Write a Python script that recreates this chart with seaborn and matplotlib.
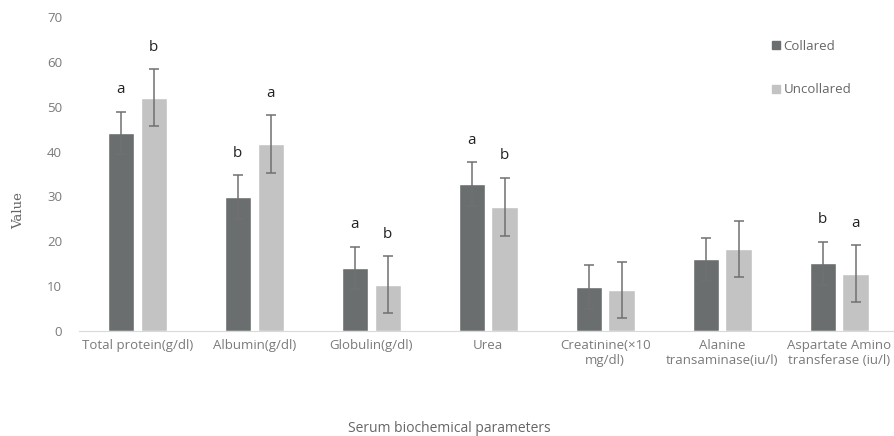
import numpy as np
import pandas as pd
import matplotlib
matplotlib.use("Agg")
import matplotlib.pyplot as plt
import seaborn as sns

# -----------------------------
# Data
# -----------------------------
categories = ["Total protein(g/dl)", "Albumin(g/dl)", "Globulin(g/dl)", "Urea",
              "Creatinine(×10\nmg/dl)", "Alanine\ntransaminase(iu/l)",
              "Aspartate Amino\ntransferase (iu/l)"]
groups = ["Collared", "Uncollared"]
collared = [44.2, 29.9, 14.1, 32.8, 9.8, 16.0, 15.1]
uncollared = [52.0, 41.7, 10.3, 27.7, 9.1, 18.3, 12.8]
collared_err = [4.7, 4.9, 4.7, 4.9, 4.9, 4.8, 4.8]
uncollared_err = [6.4, 6.4, 6.4, 6.5, 6.3, 6.3, 6.3]
collared_letters = ["a", "b", "a", "a", "", "", "b"]
uncollared_letters = ["b", "a", "b", "b", "", "", "a"]

df = pd.DataFrame({
    "category": categories * 2,
    "group": [groups[0]] * len(categories) + [groups[1]] * len(categories),
    "value": collared + uncollared,
})

colors = {"Collared": "#6b6e6e", "Uncollared": "#c3c3c3"}

sns.set_style("white")
plt.rcParams["font.family"] = ["Open Sans", "DejaVu Sans"]

fig = plt.figure(figsize=(8.95, 4.36), dpi=100)
ax = fig.add_axes([0.088, 0.241, 0.915, 0.72])

sns.barplot(data=df, x="category", y="value", hue="group", palette=colors,
            width=0.56, gap=0.2, errorbar=None, ax=ax, legend=False)

# error bars and letters on top of each bar
n = len(categories)
for i, (err, letters) in enumerate([(collared_err, collared_letters),
                                     (uncollared_err, uncollared_letters)]):
    patches = ax.patches[i * n:(i + 1) * n]
    for p, e, lab in zip(patches, err, letters):
        xc = p.get_x() + p.get_width() / 2
        h = p.get_height()
        ax.errorbar(xc, h, yerr=e, color="#707070", capsize=3.5,
                    elinewidth=1.1, capthick=1.1)
        if lab:
            ax.text(xc, h + e + 3.2, lab, ha="center", va="bottom",
                    fontsize=11, color="#222222")

ax.set_ylim(0, 70)
ax.set_yticks(range(0, 71, 10))
ax.set_xlim(-0.5, n - 0.5)
ax.tick_params(axis="both", length=0, colors="#7a7a7a", labelsize=9.5)
ax.tick_params(axis="x", pad=6)
ax.tick_params(axis="y", pad=12)
for s in ["top", "right", "left"]:
    ax.spines[s].set_visible(False)
ax.spines["bottom"].set_color("#d9d9d9")
ax.set_xlabel("")
ax.set_ylabel("")

fig.text(0.021, 0.518, "Value", family="DejaVu Serif", fontsize=9.5,
         color="#666666", rotation=90, ha="center", va="center")
fig.text(0.502, 0.0, "Serum biochemical parameters", fontsize=10,
         color="#666666", ha="center", va="bottom")

# legend
handles = [plt.Line2D([], [], marker="s", linestyle="", markersize=6,
                      color=colors[g]) for g in groups]
leg = ax.legend(handles, groups, loc="upper left", bbox_to_anchor=(0.83, 0.965),
                frameon=False, fontsize=9.5, labelspacing=2.3, handletextpad=0.2,
                handlelength=0.8)
for t in leg.get_texts():
    t.set_color("#666666")

fig.savefig("out.png", dpi=100)
